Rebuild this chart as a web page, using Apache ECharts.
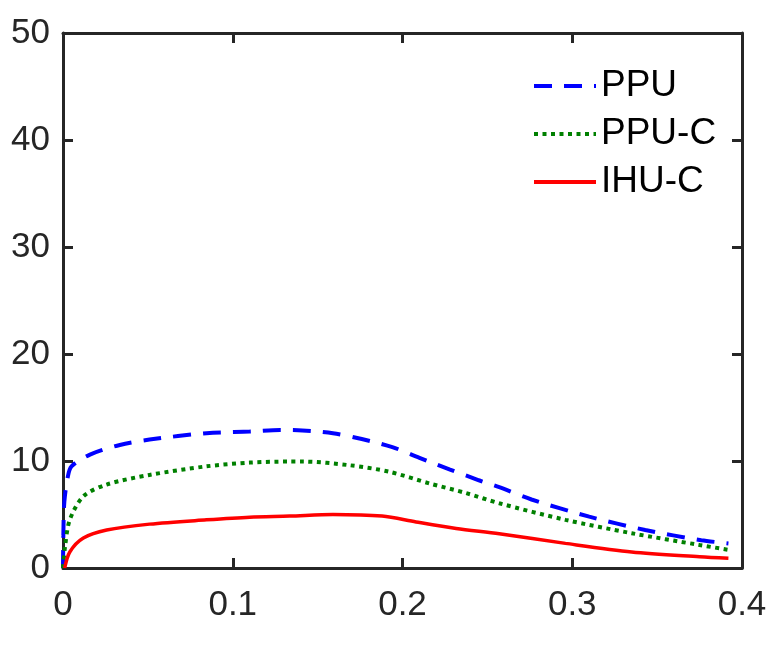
<!DOCTYPE html>
<html>
<head>
<meta charset="utf-8">
<script src="https://cdn.jsdelivr.net/npm/echarts@6/dist/echarts.min.js"></script>
<style>
  html, body { margin: 0; padding: 0; background: #fff; }
  #chart { width: 780px; height: 663px; }
</style>
</head>
<body>
<div id="chart"></div>
<script>
// curve samples: [x, y]
let ppu = [
  [0, 0], [0.0002, 3], [0.0008, 6.2], [0.0028, 8.5], [0.005, 9.5], [0.0159, 10.6],
  [0.0335, 11.5], [0.051, 12.0], [0.0845, 12.6], [0.11, 12.75], [0.128, 12.9],
  [0.141, 12.85], [0.159, 12.6], [0.176, 12.05], [0.194, 11.3], [0.21, 10.3],
  [0.228, 9.2], [0.245, 8.2], [0.257, 7.55], [0.276, 6.4], [0.31, 4.8],
  [0.343, 3.55], [0.376, 2.6], [0.392, 2.3]
];
let ppuC = [
  [0, 0], [0.0012, 2.0], [0.004, 4.5], [0.012, 6.7], [0.0257, 7.8], [0.051, 8.7],
  [0.0845, 9.5], [0.11, 9.85], [0.1335, 9.95], [0.141, 9.95], [0.169, 9.6],
  [0.192, 9.0], [0.216, 7.9], [0.2375, 7.0], [0.257, 6.05], [0.296, 4.5],
  [0.335, 3.25], [0.375, 2.15], [0.392, 1.7]
];
let ihuC = [
  [0.001, 0], [0.004, 1.5], [0.012, 2.8], [0.0257, 3.55], [0.051, 4.1],
  [0.0845, 4.5], [0.11, 4.75], [0.1335, 4.85], [0.159, 5.0], [0.188, 4.85],
  [0.208, 4.3], [0.2316, 3.7], [0.257, 3.2], [0.296, 2.3], [0.335, 1.5],
  [0.375, 1.05], [0.392, 0.9]
];
let seriesNames = ['PPU', 'PPU-C', 'IHU-C'];

let axisColor = '#262626';
let fontFamily = 'Liberation Sans, Arial, sans-serif';

let chart = echarts.init(document.getElementById('chart'));

function frameAxis(position, isX, showLabels) {
  return {
    type: 'value',
    position: position,
    min: 0,
    max: isX ? 0.4 : 50,
    interval: isX ? 0.1 : 10,
    axisLine: { show: true, onZero: false, lineStyle: { color: axisColor, width: 3 } },
    axisTick: { show: true, inside: true, length: 10, lineStyle: { color: axisColor, width: 3 } },
    splitLine: { show: false },
    axisLabel: {
      show: showLabels,
      color: axisColor,
      fontSize: 35,
      fontFamily: fontFamily,
      margin: isX ? 20 : 13,
      formatter: function (v) { return isX ? String(Math.round(v * 10) / 10) : String(v); }
    }
  };
}

let option = {
  backgroundColor: '#fff',
  animation: false,
  grid: { left: 63, right: 38, top: 33, bottom: 95, containLabel: false },
  xAxis: [frameAxis('bottom', true, true), frameAxis('top', true, false)],
  yAxis: [frameAxis('left', false, true), frameAxis('right', false, false)],
  legend: {
    orient: 'vertical',
    left: 527,
    top: 62,
    itemWidth: 62,
    itemHeight: 14,
    itemGap: 10,
    data: seriesNames,
    itemStyle: { opacity: 0 },
    lineStyle: { width: 4 },
    textStyle: { fontSize: 37, color: '#000', fontFamily: fontFamily, lineHeight: 38 }
  },
  series: [
    {
      name: 'PPU', type: 'line', data: ppu, smooth: 0.3, showSymbol: false, symbol: 'none',
      lineStyle: { color: '#0000ff', width: 4, type: [18, 12] },
      itemStyle: { color: '#0000ff' }
    },
    {
      name: 'PPU-C', type: 'line', data: ppuC, smooth: 0.3, showSymbol: false, symbol: 'none',
      lineStyle: { color: '#008000', width: 4, type: [4, 4.5] },
      itemStyle: { color: '#008000' }
    },
    {
      name: 'IHU-C', type: 'line', data: ihuC, smooth: 0.3, showSymbol: false, symbol: 'none',
      lineStyle: { color: '#ff0000', width: 3.5 },
      itemStyle: { color: '#ff0000' }
    }
  ]
};
chart.setOption(option);
</script>
</body>
</html>
